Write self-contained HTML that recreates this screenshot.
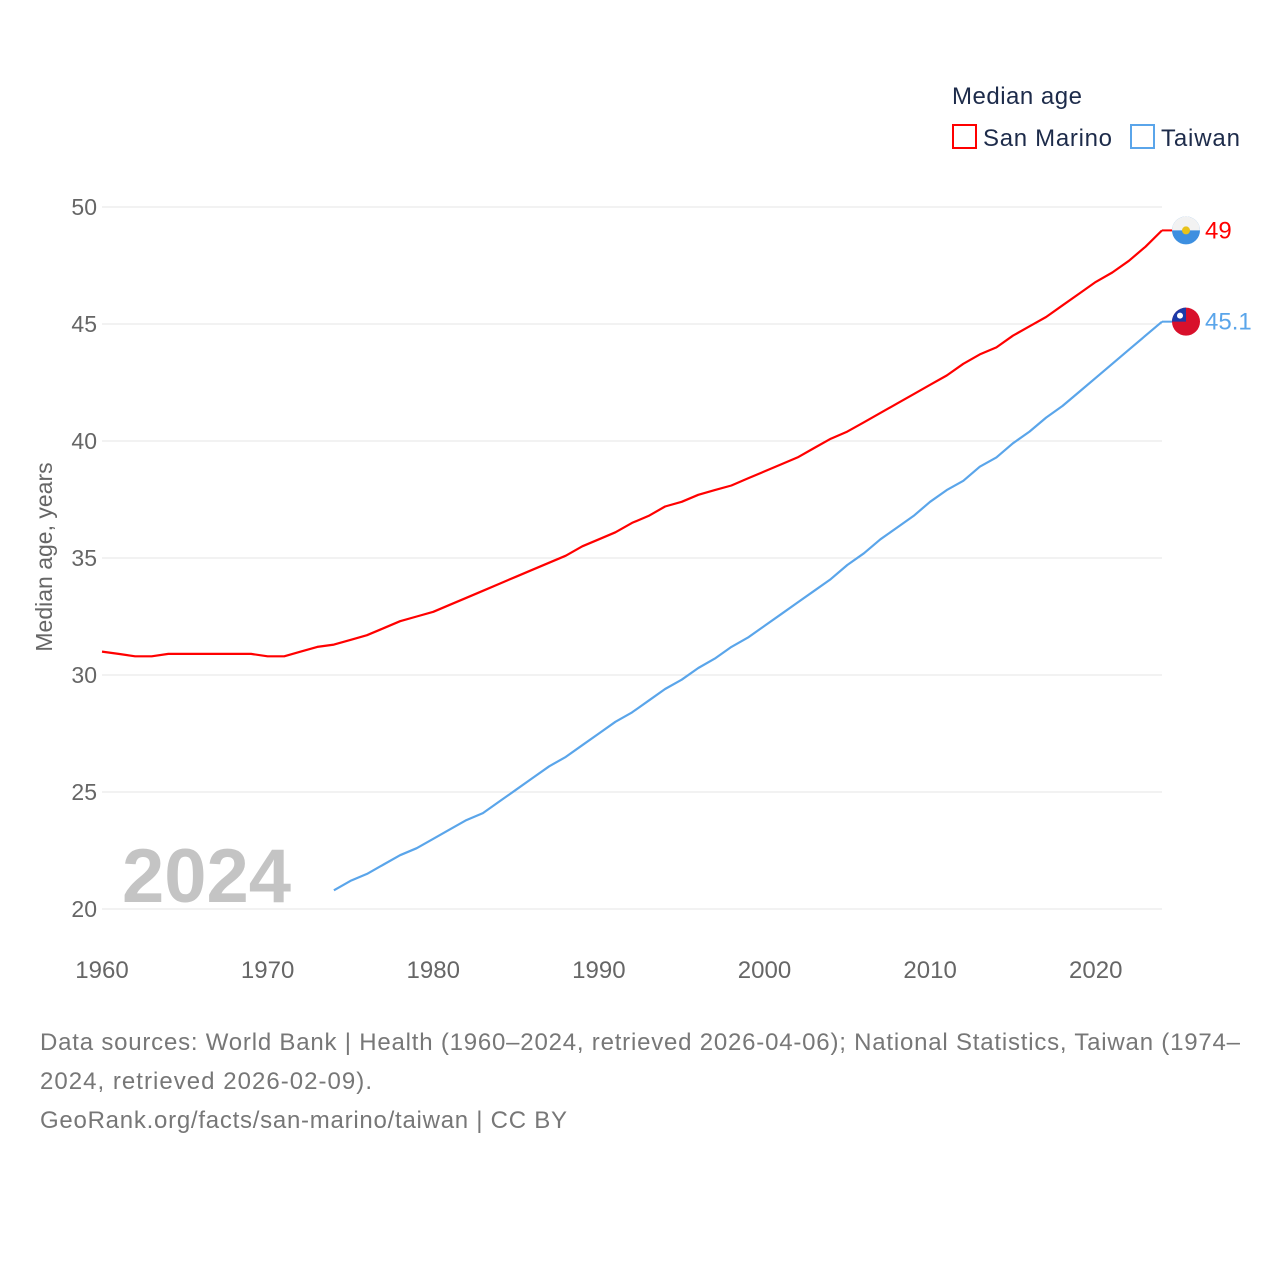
<!DOCTYPE html>
<html><head><meta charset="utf-8"><style>
body{margin:0;background:#fff;font-family:"Liberation Sans",sans-serif;}
svg text{font-family:"Liberation Sans",sans-serif;}
</style></head><body>
<svg id="chart" width="1280" height="1280" xmlns="http://www.w3.org/2000/svg">
<rect width="1280" height="1280" fill="#fff"/>
<g id="grid"></g>
<g id="lines"></g>
<text x="952" y="104" font-size="24" fill="#1d2b4a" textLength="130">Median age</text>
<g>
<rect x="953" y="125" width="23" height="23" fill="none" stroke="#ff0000" stroke-width="2"/>
<text x="983" y="146" font-size="24" fill="#1d2b4a" textLength="129">San Marino</text></g>
<g>
<rect x="1131" y="125" width="23" height="23" fill="none" stroke="#5aa5ea" stroke-width="2"/>
<text x="1161" y="146" font-size="24" fill="#1d2b4a" textLength="79">Taiwan</text></g>
<text x="55" y="560" font-size="23" fill="#666" transform="rotate(-90 52 560)" text-anchor="middle">Median age, years</text>
<text x="122" y="902" font-size="76" font-weight="bold" fill="#c4c4c4">2024</text>
<text x="40" y="1050" font-size="24" fill="#777" textLength="1200">Data sources: World Bank | Health (1960–2024, retrieved 2026-04-06); National Statistics, Taiwan (1974–</text>
<text x="40" y="1089" font-size="24" fill="#777" textLength="332">2024, retrieved 2026-02-09).</text>
<text x="40" y="1128" font-size="24" fill="#777" textLength="527">GeoRank.org/facts/san-marino/taiwan | CC BY</text>
</svg>
<script>
const years=[];for(let y=1960;y<=2024;y++)years.push(y);
const sanMarino=[31.0,30.9,30.8,30.8,30.9,30.9,30.9,30.9,30.9,30.9,30.8,30.8,31.0,31.2,31.3,31.5,31.7,32.0,32.3,32.5,32.7,33.0,33.3,33.6,33.9,34.2,34.5,34.8,35.1,35.5,35.8,36.1,36.5,36.8,37.2,37.4,37.7,37.9,38.1,38.4,38.7,39.0,39.3,39.7,40.1,40.4,40.8,41.2,41.6,42.0,42.4,42.8,43.3,43.7,44.0,44.5,44.9,45.3,45.8,46.3,46.8,47.2,47.7,48.3,49.0];
const taiwanStart=1974;
const taiwan=[20.8,21.2,21.5,21.9,22.3,22.6,23.0,23.4,23.8,24.1,24.6,25.1,25.6,26.1,26.5,27.0,27.5,28.0,28.4,28.9,29.4,29.8,30.3,30.7,31.2,31.6,32.1,32.6,33.1,33.6,34.1,34.7,35.2,35.8,36.3,36.8,37.4,37.9,38.3,38.9,39.3,39.9,40.4,41.0,41.5,42.1,42.7,43.3,43.9,44.5,45.1];
const yTicks=[20,25,30,35,40,45,50];
const xTicks=[1960,1970,1980,1990,2000,2010,2020];
const X=y=>102+(y-1960)*(1162-102)/64;
const Y=v=>909-(v-20)*(909-207)/30;
const NS="http://www.w3.org/2000/svg";
function mk(t,a,p){const e=document.createElementNS(NS,t);for(const k in a)e.setAttribute(k,a[k]);p.appendChild(e);return e;}
const grid=document.getElementById('grid'),lines=document.getElementById('lines');
yTicks.forEach(v=>{
 const l=mk('line',{x1:102,x2:1162,y1:Y(v),y2:Y(v),stroke:'#e6e6e6','stroke-width':1},grid);
 
 
 const t=mk('text',{x:97,y:Y(v)+8,'font-size':23,fill:'#666','text-anchor':'end'},grid);t.textContent=v;
 
 
});
xTicks.forEach(v=>{
 const t=mk('text',{x:X(v),y:978,'font-size':24,fill:'#666','text-anchor':'middle'},grid);t.textContent=v;
 
 
});
function series(vals,start,color,name,label){
 const pts=vals.map((v,i)=>X(start+i).toFixed(1)+','+Y(v).toFixed(1)).join(' ');
 const p=mk('polyline',{points:pts,fill:'none',stroke:color,'stroke-width':2.2,'stroke-linejoin':'round'},lines);
 
 
 const last=vals[vals.length-1],ly=Y(last);
 mk('line',{x1:1162,x2:1174,y1:ly,y2:ly,stroke:color,'stroke-width':2},lines);
 const c=mk('circle',{cx:1186,cy:ly,r:14,fill:name==='san-marino'?'#3d8fe0':'#d8102b'},lines);
 
 
 if(name==='san-marino'){mk('path',{d:`M1172 ${ly} A14 14 0 0 1 1200 ${ly} Z`,fill:'#f2f2f2'},lines);mk('circle',{cx:1186,cy:ly,r:4,fill:'#e8c21a'},lines);}
 else{mk('path',{d:`M1186 ${ly} L1172 ${ly} A14 14 0 0 1 1186 ${ly-14} Z`,fill:'#1c3aa8'},lines);mk('circle',{cx:1180,cy:ly-6,r:3,fill:'#fff'},lines);}
 const t=mk('text',{x:1205,y:ly+8,'font-size':24,fill:color},lines);t.textContent=label;
 
 
}
series(sanMarino,1960,'#ff0000','san-marino','49');
series(taiwan,taiwanStart,'#5aa5ea','taiwan','45.1');
</script>
</body></html>
